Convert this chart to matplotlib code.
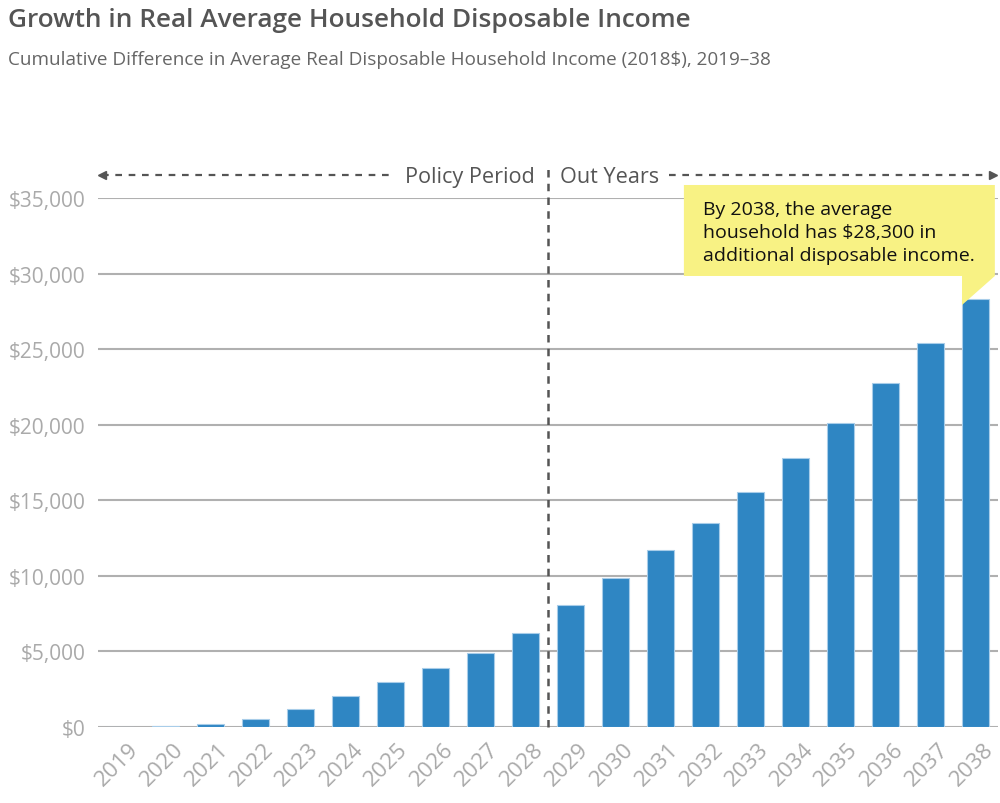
import matplotlib.pyplot as plt
from matplotlib.patches import Polygon
import matplotlib.transforms as mtransforms
import numpy as np

plt.rcParams['font.family'] = ['Open Sans', 'DejaVu Sans']

years = [str(y) for y in range(2019, 2039)]
income = [0, 50, 200, 530, 1190, 2050, 2970, 3900, 4890, 6210,
          8050, 9840, 11690, 13470, 15520, 17770, 20140, 22790, 25430, 28300]
yticks = [0, 5000, 10000, 15000, 20000, 25000, 30000, 35000]
ytick_labels = ['$0', '$5,000', '$10,000', '$15,000', '$20,000', '$25,000', '$30,000', '$35,000']
callout = 'By 2038, the average\nhousehold has $28,300 in\nadditional disposable income.'

fig = plt.figure(figsize=(10, 8.04), dpi=100)
ax = fig.add_axes([0.098, 0.0945, 0.9, 0.658])

x = np.arange(len(years))
ax.bar(x, income, width=0.62, color='#2f86c3', edgecolor='#a8cde9', linewidth=0.8, zorder=3)

ax.set_xlim(-0.5, 19.5)
ax.set_ylim(0, 35000)
ax.set_yticks(yticks)
ax.set_yticklabels(ytick_labels)
ax.set_xticks(x)
ax.set_xticklabels(years, rotation=45, ha='right', va='top', rotation_mode='anchor')
ax.tick_params(axis='both', length=0, colors='#aaaaaa')
ax.tick_params(axis='y', pad=9, labelsize=15)
ax.tick_params(axis='x', pad=8, labelsize=16.2)
shift = mtransforms.ScaledTranslation(0.07, 0, fig.dpi_scale_trans)
for lab in ax.get_xticklabels():
    lab.set_transform(lab.get_transform() + shift)
for s in ax.spines.values():
    s.set_visible(False)
ax.grid(axis='y', color='#b0b0b0', linewidth=1.5, zorder=1)
ax.set_axisbelow(True)

# policy period divider
ax.plot([9.5, 9.5], [0, 37250], color='#555555', lw=1.8, ls=(0, (3, 2.5)), clip_on=False, zorder=4)
ya = 36520
ax.plot([-0.42, 6.08], [ya, ya], color='#555555', lw=1.6, ls=(0, (3, 3)), clip_on=False)
ax.plot([-0.42], [ya], marker='<', color='#555555', ms=6, clip_on=False)
ax.plot([12.19, 19.33], [ya, ya], color='#555555', lw=1.6, ls=(0, (3, 3)), clip_on=False)
ax.plot([19.38], [ya], marker='>', color='#555555', ms=6, clip_on=False)
ax.text(9.2, ya - 120, 'Policy Period', ha='right', va='center', fontsize=15.6, color='#555555')
ax.text(9.76, ya - 120, 'Out Years', ha='left', va='center', fontsize=15.6, color='#555555')

# callout box
box = Polygon([(12.52, 35860), (19.43, 35860), (19.43, 29840), (18.7, 27920),
               (18.7, 29840), (12.52, 29840)], closed=True,
              facecolor='#f8f284', edgecolor='none', clip_on=False, zorder=5)
ax.add_patch(box)
ax.text(12.94, 34850, callout, ha='left', va='top', fontsize=14,
        color='#111111', linespacing=1.36, zorder=6)

fig.text(0.008, 0.974, 'Growth in Real Average Household Disposable Income',
         fontsize=18.9, fontweight='semibold', color='#555555', va='center')
fig.text(0.008, 0.925, 'Cumulative Difference in Average Real Disposable Household Income (2018$), 2019\u201338',
         fontsize=13.6, color='#666666', va='center')

fig.savefig('out.png', dpi=100)
